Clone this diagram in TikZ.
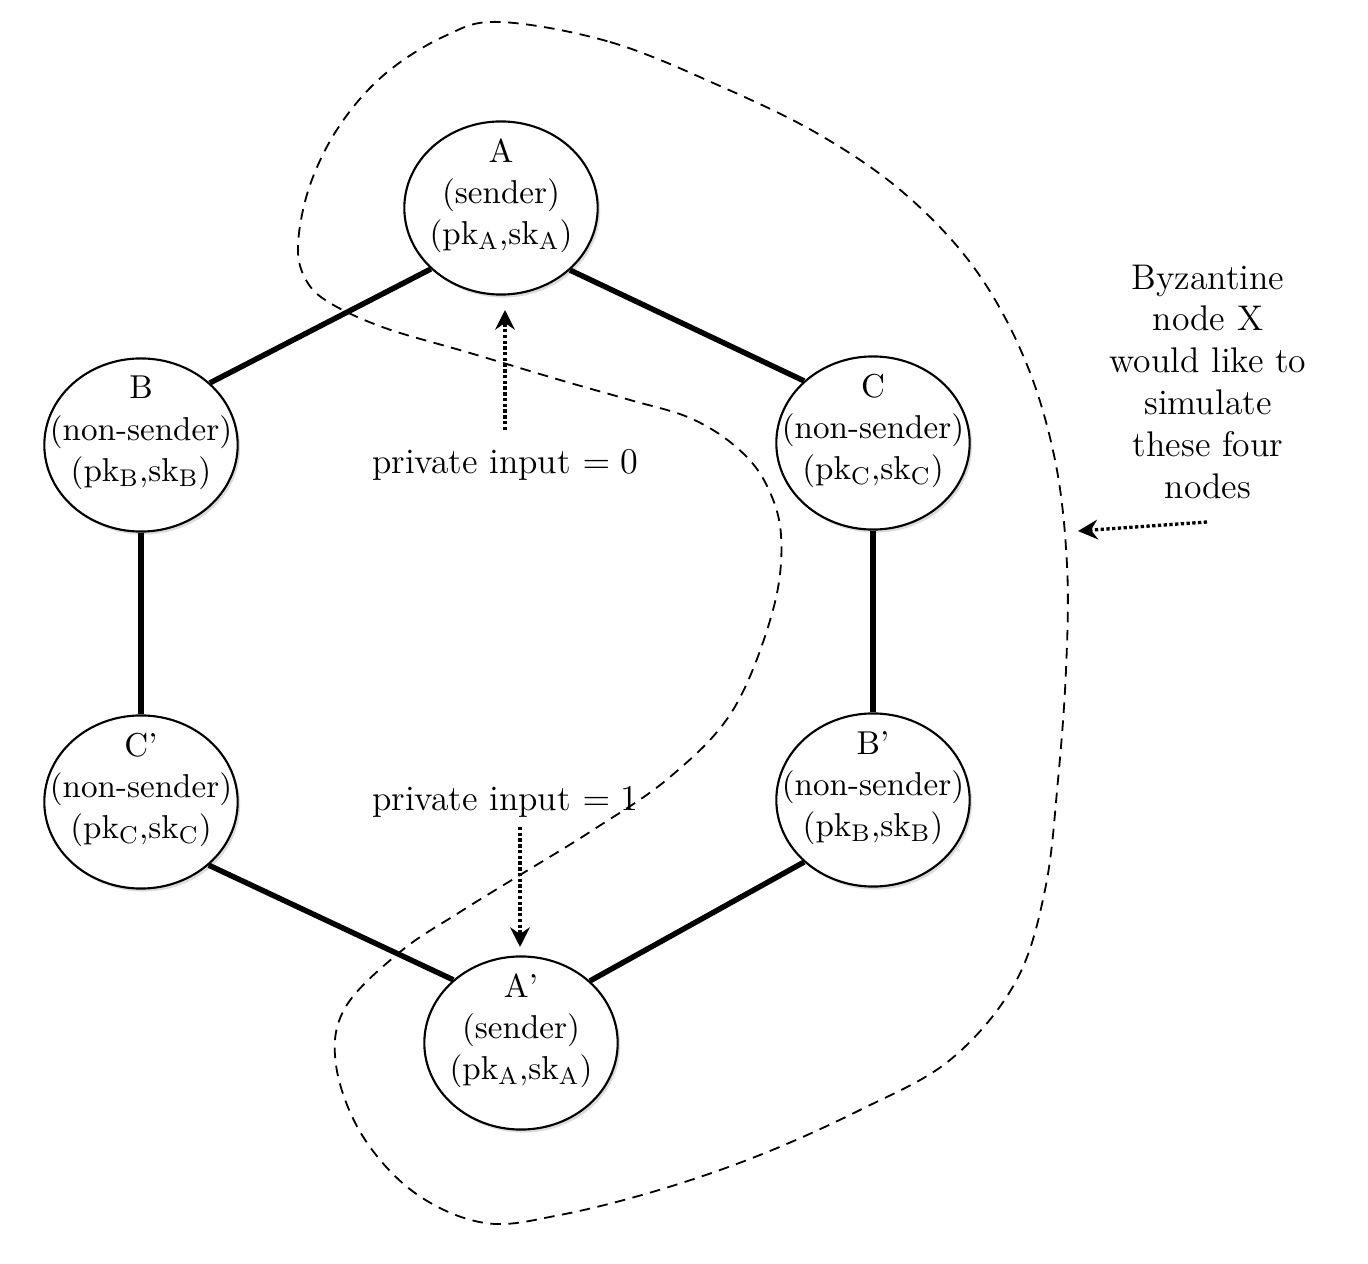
\documentclass[tikz,border=0pt]{standalone}
\usetikzlibrary{shapes.geometric,arrows.meta,shadows}
\begin{document}
\begin{tikzpicture}[x=0.331pt,y=-0.331pt,
  every node/.style={font=\fontsize{10.95}{13.6}\selectfont},
  party/.style={ellipse, draw, line width=0.7pt, fill=white,
    minimum width=64pt, minimum height=57.3pt, inner sep=0pt,
    drop shadow={shadow xshift=0.8pt, shadow yshift=-1pt, fill=black!30, opacity=0.45}},
  partytext/.style={align=center, inner sep=0pt, yshift=4pt},
  link/.style={line width=1.8pt},
  region/.style={line width=0.6pt, dash pattern=on 3.5pt off 2.5pt},
  hint/.style={line width=1.1pt, dash pattern=on 1.1pt off 0.8pt,
    -{Stealth[length=6.5pt,width=6.5pt,inset=2.2pt]}},
  note/.style={align=center, inner sep=0pt, font=\fontsize{11.8}{13.9}\selectfont}
]
\useasboundingbox (0,0) rectangle (1368,1264);

% parties
\node[party] (A)  at (501,208)  {};
\node[party] (B)  at (141,445)  {};
\node[party] (C)  at (873,443)  {};
\node[party] (Cp) at (141,802)  {};
\node[party] (Bp) at (873,800)  {};
\node[party] (Ap) at (521,1043) {};

% ring links
\draw[link] (A.221) -- (B.42);
\draw[link] (A.-42) -- (C.138);
\draw[link] (B) -- (Cp);
\draw[link] (C) -- (Bp);
\draw[link] (Cp.-43) -- (Ap.137);
\draw[link] (Bp.222) -- (Ap.42);

% party labels
\node[partytext] (At)  at (A)  {A\\(sender)\\(pk$_\mathrm{A}$,sk$_\mathrm{A}$)};
\node[partytext] (Bt)  at (B)  {B\\(non-sender)\\(pk$_\mathrm{B}$,sk$_\mathrm{B}$)};
\node[partytext] (Ct)  at (C)  {C\\(non-sender)\\(pk$_\mathrm{C}$,sk$_\mathrm{C}$)};
\node[partytext] (Cpt) at (Cp) {C’\\(non-sender)\\(pk$_\mathrm{C}$,sk$_\mathrm{C}$)};
\node[partytext] (Bpt) at (Bp) {B’\\(non-sender)\\(pk$_\mathrm{B}$,sk$_\mathrm{B}$)};
\node[partytext] (Apt) at (Ap) {A’\\(sender)\\(pk$_\mathrm{A}$,sk$_\mathrm{A}$)};

% private inputs
\node[note] (in0) at (505,465) {private input $=0$};
\node[note] (in1) at (505,802) {private input $=1$};
\coordinate (in0tail) at (505,430);
\coordinate (in0tip)  at (505,310);
\coordinate (in1tail) at (520,827);
\coordinate (in1tip)  at (520,947);
\draw[hint] (in0tail) -- (in0tip);
\draw[hint] (in1tail) -- (in1tip);

% Byzantine note
\node[note] (byz) at (1208,382) {Byzantine\\node X\\would like to\\simulate\\these four\\nodes};
\coordinate (byztail) at (1207,522);
\coordinate (byztip)  at (1078,531);
\draw[hint] (byztail) -- (byztip);

% simulated region
\draw[region] plot[smooth cycle, tension=0.6] coordinates {
 (500,22) (610,42) (720,86) (820,135) (905,194) (975,269) (1025,360)
 (1055,460) (1067,565) (1066,670) (1058,780) (1045,890) (1015,983)
 (950,1060) (860,1110) (760,1155) (659,1190) (560,1215) (485,1223)
 (415,1193) (362,1135) (336,1065) (345,1008) (400,952) (460,912)
 (520,875) (593,830) (670,777) (733,710) (773,610) (781,535) (765,482)
 (735,446) (690,418) (630,400) (560,380) (470,353) (385,328) (330,303)
 (306,280) (298,245) (310,185) (340,125) (385,74) (445,36)};
\end{tikzpicture}
\end{document}
